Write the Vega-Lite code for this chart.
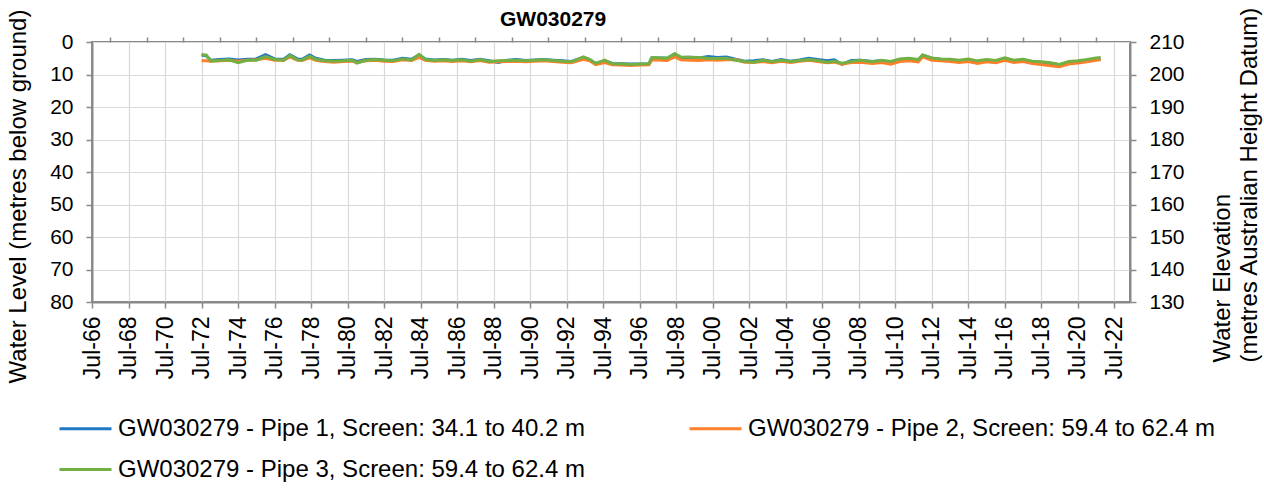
{
  "$schema": "https://vega.github.io/schema/vega-lite/v6.json",
  "width": 1038,
  "height": 260,
  "autosize": {"type": "none"},
  "padding": {"left": 92, "top": 42, "right": 134, "bottom": 186},
  "background": "white",
  "title": {"text": "GW030279", "anchor": "start", "frame": "group", "dx": 408, "offset": 0, "dy": 41, "baseline": "alphabetic", "fontSize": 21, "fontWeight": "bold", "font": "Liberation Sans", "color": "#000000"},
  "config": {
    "font": "Liberation Sans",
    "view": {"stroke": "#898989", "strokeWidth": 2},
    "axis": {"labelColor": "#000000", "titleColor": "#000000", "titleFontWeight": "normal", "domainColor": "#898989", "domainWidth": 2, "tickColor": "#898989", "tickWidth": 1.5, "gridColor": "#d9d9d9", "gridWidth": 1.2}
  },
  "data": {"values": [
    {"date": "1972-07-01", "p1": 4.0, "p2": 5.8, "p3": 3.9},
    {"date": "1972-10-01", "p1": 4.2, "p2": 5.8, "p3": 4.0},
    {"date": "1973-01-01", "p1": 5.6, "p2": 5.9, "p3": 5.8},
    {"date": "1973-07-01", "p1": 5.4, "p2": 5.8, "p3": 5.7},
    {"date": "1974-01-01", "p1": 5.2, "p2": 5.6, "p3": 5.5},
    {"date": "1974-07-01", "p1": 5.5, "p2": 5.9, "p3": 6.4},
    {"date": "1975-01-01", "p1": 5.3, "p2": 5.6, "p3": 5.6},
    {"date": "1975-07-01", "p1": 5.2, "p2": 5.5, "p3": 5.6},
    {"date": "1976-01-01", "p1": 3.9, "p2": 5.0, "p3": 4.5},
    {"date": "1976-07-01", "p1": 5.2, "p2": 5.6, "p3": 5.4},
    {"date": "1977-01-01", "p1": 5.3, "p2": 5.6, "p3": 5.6},
    {"date": "1977-05-01", "p1": 3.9, "p2": 4.6, "p3": 4.2},
    {"date": "1977-10-01", "p1": 5.2, "p2": 5.6, "p3": 5.5},
    {"date": "1978-01-01", "p1": 5.3, "p2": 5.7, "p3": 5.6},
    {"date": "1978-06-01", "p1": 4.0, "p2": 4.9, "p3": 4.4},
    {"date": "1978-10-01", "p1": 5.0, "p2": 5.6, "p3": 5.3},
    {"date": "1979-04-01", "p1": 5.6, "p2": 6.0, "p3": 5.8},
    {"date": "1979-10-01", "p1": 5.7, "p2": 6.2, "p3": 5.9},
    {"date": "1980-04-01", "p1": 5.6, "p2": 6.0, "p3": 5.8},
    {"date": "1980-10-01", "p1": 5.5, "p2": 5.9, "p3": 5.6},
    {"date": "1981-01-01", "p1": 6.0, "p2": 6.3, "p3": 6.5},
    {"date": "1981-07-01", "p1": 5.4, "p2": 5.8, "p3": 5.6},
    {"date": "1982-01-01", "p1": 5.3, "p2": 5.6, "p3": 5.4},
    {"date": "1982-07-01", "p1": 5.5, "p2": 5.9, "p3": 5.6},
    {"date": "1983-01-01", "p1": 5.6, "p2": 6.0, "p3": 5.8},
    {"date": "1983-07-01", "p1": 5.0, "p2": 5.5, "p3": 5.2},
    {"date": "1984-01-01", "p1": 5.3, "p2": 5.7, "p3": 5.5},
    {"date": "1984-06-01", "p1": 3.9, "p2": 4.7, "p3": 3.8},
    {"date": "1984-10-01", "p1": 5.2, "p2": 5.6, "p3": 5.4},
    {"date": "1985-04-01", "p1": 5.5, "p2": 5.9, "p3": 5.7},
    {"date": "1985-10-01", "p1": 5.4, "p2": 5.8, "p3": 5.5},
    {"date": "1986-04-01", "p1": 5.6, "p2": 6.0, "p3": 5.7},
    {"date": "1986-10-01", "p1": 5.3, "p2": 5.8, "p3": 5.5},
    {"date": "1987-04-01", "p1": 5.7, "p2": 6.1, "p3": 5.9},
    {"date": "1987-10-01", "p1": 5.3, "p2": 5.7, "p3": 5.4},
    {"date": "1988-04-01", "p1": 5.8, "p2": 6.2, "p3": 6.0},
    {"date": "1988-10-01", "p1": 6.3, "p2": 6.1, "p3": 5.8},
    {"date": "1989-04-01", "p1": 5.6, "p2": 6.0, "p3": 5.7},
    {"date": "1989-10-01", "p1": 5.4, "p2": 5.9, "p3": 5.6},
    {"date": "1990-04-01", "p1": 5.7, "p2": 6.1, "p3": 5.8},
    {"date": "1990-10-01", "p1": 5.5, "p2": 5.9, "p3": 5.6},
    {"date": "1991-04-01", "p1": 5.4, "p2": 5.8, "p3": 5.5},
    {"date": "1991-10-01", "p1": 5.6, "p2": 6.0, "p3": 5.7},
    {"date": "1992-04-01", "p1": 5.8, "p2": 6.2, "p3": 5.9},
    {"date": "1992-10-01", "p1": 6.0, "p2": 6.4, "p3": 6.1},
    {"date": "1993-06-01", "p1": 4.8, "p2": 5.3, "p3": 4.6},
    {"date": "1993-10-01", "p1": 5.4, "p2": 5.8, "p3": 5.3},
    {"date": "1994-02-01", "p1": 6.6, "p2": 7.0, "p3": 6.6},
    {"date": "1994-08-01", "p1": 5.8, "p2": 6.3, "p3": 5.6},
    {"date": "1995-01-01", "p1": 6.6, "p2": 7.0, "p3": 6.7},
    {"date": "1995-07-01", "p1": 6.7, "p2": 7.1, "p3": 6.8},
    {"date": "1996-01-01", "p1": 6.8, "p2": 7.2, "p3": 6.9},
    {"date": "1996-07-01", "p1": 6.8, "p2": 7.1, "p3": 6.8},
    {"date": "1997-01-01", "p1": 6.7, "p2": 7.0, "p3": 6.7},
    {"date": "1997-03-01", "p1": 4.9, "p2": 5.5, "p3": 4.8},
    {"date": "1997-10-01", "p1": 4.9, "p2": 5.6, "p3": 4.9},
    {"date": "1998-01-01", "p1": 5.0, "p2": 5.7, "p3": 5.0},
    {"date": "1998-06-01", "p1": 3.7, "p2": 4.6, "p3": 3.6},
    {"date": "1998-10-01", "p1": 4.8, "p2": 5.5, "p3": 4.6},
    {"date": "1999-04-01", "p1": 4.7, "p2": 5.6, "p3": 4.7},
    {"date": "1999-10-01", "p1": 4.9, "p2": 5.7, "p3": 4.8},
    {"date": "2000-04-01", "p1": 4.5, "p2": 5.5, "p3": 5.0},
    {"date": "2000-10-01", "p1": 4.8, "p2": 5.6, "p3": 5.1},
    {"date": "2001-04-01", "p1": 4.6, "p2": 5.5, "p3": 5.0},
    {"date": "2001-10-01", "p1": 5.3, "p2": 5.4, "p3": 5.6},
    {"date": "2002-04-01", "p1": 5.9, "p2": 6.2, "p3": 6.0},
    {"date": "2002-10-01", "p1": 5.8, "p2": 6.3, "p3": 6.2},
    {"date": "2003-04-01", "p1": 5.5, "p2": 6.0, "p3": 5.6},
    {"date": "2003-10-01", "p1": 6.0, "p2": 6.4, "p3": 6.1},
    {"date": "2004-04-01", "p1": 5.4, "p2": 5.9, "p3": 5.6},
    {"date": "2004-10-01", "p1": 5.9, "p2": 6.3, "p3": 6.0},
    {"date": "2005-04-01", "p1": 5.5, "p2": 5.9, "p3": 5.7},
    {"date": "2005-10-01", "p1": 5.0, "p2": 5.6, "p3": 5.4},
    {"date": "2006-04-01", "p1": 5.4, "p2": 6.0, "p3": 5.7},
    {"date": "2006-10-01", "p1": 5.8, "p2": 6.4, "p3": 6.2},
    {"date": "2007-03-01", "p1": 5.5, "p2": 6.2, "p3": 5.9},
    {"date": "2007-08-01", "p1": 6.9, "p2": 6.8, "p3": 6.5},
    {"date": "2008-02-01", "p1": 5.7, "p2": 6.3, "p3": 6.0},
    {"date": "2008-08-01", "p1": 5.6, "p2": 6.2, "p3": 5.6},
    {"date": "2009-04-01", "p1": 6.0, "p2": 6.6, "p3": 6.1},
    {"date": "2009-10-01", "p1": 5.7, "p2": 6.3, "p3": 5.6},
    {"date": "2010-04-01", "p1": 6.2, "p2": 6.8, "p3": 6.0},
    {"date": "2010-10-01", "p1": 5.4, "p2": 6.0, "p3": 5.2},
    {"date": "2011-04-01", "p1": 5.2, "p2": 5.8, "p3": 5.0},
    {"date": "2011-10-01", "p1": 5.6, "p2": 6.1, "p3": 5.4},
    {"date": "2012-01-01", "p1": 4.1, "p2": 4.6, "p3": 4.0},
    {"date": "2012-07-01", "p1": 5.0, "p2": 5.6, "p3": 4.9},
    {"date": "2013-01-01", "p1": 5.3, "p2": 5.8, "p3": 5.2},
    {"date": "2013-07-01", "p1": 5.5, "p2": 6.0, "p3": 5.3},
    {"date": "2014-01-01", "p1": 5.8, "p2": 6.3, "p3": 5.6},
    {"date": "2014-07-01", "p1": 5.5, "p2": 6.0, "p3": 5.2},
    {"date": "2015-01-01", "p1": 6.1, "p2": 6.6, "p3": 5.8},
    {"date": "2015-07-01", "p1": 5.6, "p2": 6.1, "p3": 5.4},
    {"date": "2016-01-01", "p1": 5.9, "p2": 6.4, "p3": 5.7},
    {"date": "2016-07-01", "p1": 5.0, "p2": 5.6, "p3": 4.9},
    {"date": "2017-01-01", "p1": 5.8, "p2": 6.3, "p3": 5.6},
    {"date": "2017-07-01", "p1": 5.5, "p2": 6.0, "p3": 5.3},
    {"date": "2018-01-01", "p1": 6.1, "p2": 6.6, "p3": 5.9},
    {"date": "2018-07-01", "p1": 6.3, "p2": 6.9, "p3": 6.1},
    {"date": "2019-01-01", "p1": 6.6, "p2": 7.3, "p3": 6.4},
    {"date": "2019-07-01", "p1": 7.0, "p2": 7.6, "p3": 6.9},
    {"date": "2020-01-01", "p1": 6.2, "p2": 6.8, "p3": 6.0},
    {"date": "2020-07-01", "p1": 6.0, "p2": 6.5, "p3": 5.8},
    {"date": "2021-01-01", "p1": 5.6, "p2": 6.1, "p3": 5.4},
    {"date": "2021-07-01", "p1": 5.2, "p2": 5.6, "p3": 4.9},
    {"date": "2021-10-01", "p1": 5.3, "p2": 5.5, "p3": 4.8}
  ]},
  "transform": [
    {"fold": ["p1", "p2", "p3"], "as": ["key", "depth"]},
    {"timeUnit": "yearmonthdate", "field": "date", "as": "d"}
  ],
  "layer": [
    {
      "mark": {"type": "line", "strokeWidth": 3, "clip": true},
      "encoding": {
        "x": {"field": "d", "type": "temporal",
          "scale": {"domain": [{"year": 1966, "month": 7, "date": 1}, {"year": 2023, "month": 5, "date": 10}], "nice": false},
          "axis": {"title": null, "format": "%b-%y", "labelAngle": -90, "labelAlign": "right", "labelBaseline": "middle", "labelFontSize": 23, "labelPadding": 8, "tickSize": 6, "grid": true, "labelOverlap": false,
            "values": [
              {"year": 1966, "month": 7, "date": 1}, {"year": 1968, "month": 7, "date": 1}, {"year": 1970, "month": 7, "date": 1}, {"year": 1972, "month": 7, "date": 1},
              {"year": 1974, "month": 7, "date": 1}, {"year": 1976, "month": 7, "date": 1}, {"year": 1978, "month": 7, "date": 1}, {"year": 1980, "month": 7, "date": 1},
              {"year": 1982, "month": 7, "date": 1}, {"year": 1984, "month": 7, "date": 1}, {"year": 1986, "month": 7, "date": 1}, {"year": 1988, "month": 7, "date": 1},
              {"year": 1990, "month": 7, "date": 1}, {"year": 1992, "month": 7, "date": 1}, {"year": 1994, "month": 7, "date": 1}, {"year": 1996, "month": 7, "date": 1},
              {"year": 1998, "month": 7, "date": 1}, {"year": 2000, "month": 7, "date": 1}, {"year": 2002, "month": 7, "date": 1}, {"year": 2004, "month": 7, "date": 1},
              {"year": 2006, "month": 7, "date": 1}, {"year": 2008, "month": 7, "date": 1}, {"year": 2010, "month": 7, "date": 1}, {"year": 2012, "month": 7, "date": 1},
              {"year": 2014, "month": 7, "date": 1}, {"year": 2016, "month": 7, "date": 1}, {"year": 2018, "month": 7, "date": 1}, {"year": 2020, "month": 7, "date": 1},
              {"year": 2022, "month": 7, "date": 1}
            ]}},
        "y": {"field": "depth", "type": "quantitative",
          "scale": {"domain": [0, 80], "reverse": true, "nice": false},
          "axis": {"values": [0, 10, 20, 30, 40, 50, 60, 70, 80], "labelFontSize": 21, "tickSize": 6, "labelPadding": 13, "grid": true,
            "title": "Water Level (metres below ground)", "titleFontSize": 24, "titleAngle": -90, "titleBaseline": "alphabetic", "titleAlign": "center", "titleX": -67, "titleY": 154}},
        "color": {"field": "key", "type": "nominal",
          "scale": {"domain": ["p1", "p2", "p3"], "range": ["#1F78C1", "#FF7F2A", "#72B043"]},
          "legend": {"title": null, "orient": "none", "legendX": -34, "legendY": 359, "direction": "horizontal", "columns": 2, "columnPadding": 98, "rowPadding": 1, "padding": 0,
            "symbolType": "stroke", "symbolSize": 2704, "symbolStrokeWidth": 3, "labelFontSize": 24, "labelOffset": 5, "labelLimit": 700, "labelColor": "#000000",
            "labelExpr": "datum.value == 'p1' ? 'GW030279 - Pipe 1, Screen: 34.1 to 40.2 m' : datum.value == 'p2' ? 'GW030279 - Pipe 2, Screen: 59.4 to 62.4 m' : 'GW030279 - Pipe 3, Screen: 59.4 to 62.4 m'"}}
      }
    },
    {
      "mark": {"type": "line", "opacity": 0},
      "encoding": {
        "x": {"field": "d", "type": "temporal",
          "scale": {"domain": [{"year": 1966, "month": 7, "date": 1}, {"year": 2023, "month": 5, "date": 10}], "nice": false},
          "axis": {"title": null, "labels": false, "grid": false, "domain": false, "tickSize": 5,
            "values": [
              {"year": 1967, "month": 7, "date": 1}, {"year": 1969, "month": 7, "date": 1}, {"year": 1971, "month": 7, "date": 1}, {"year": 1973, "month": 7, "date": 1},
              {"year": 1975, "month": 7, "date": 1}, {"year": 1977, "month": 7, "date": 1}, {"year": 1979, "month": 7, "date": 1}, {"year": 1981, "month": 7, "date": 1},
              {"year": 1983, "month": 7, "date": 1}, {"year": 1985, "month": 7, "date": 1}, {"year": 1987, "month": 7, "date": 1}, {"year": 1989, "month": 7, "date": 1},
              {"year": 1991, "month": 7, "date": 1}, {"year": 1993, "month": 7, "date": 1}, {"year": 1995, "month": 7, "date": 1}, {"year": 1997, "month": 7, "date": 1},
              {"year": 1999, "month": 7, "date": 1}, {"year": 2001, "month": 7, "date": 1}, {"year": 2003, "month": 7, "date": 1}, {"year": 2005, "month": 7, "date": 1},
              {"year": 2007, "month": 7, "date": 1}, {"year": 2009, "month": 7, "date": 1}, {"year": 2011, "month": 7, "date": 1}, {"year": 2013, "month": 7, "date": 1},
              {"year": 2015, "month": 7, "date": 1}, {"year": 2017, "month": 7, "date": 1}, {"year": 2019, "month": 7, "date": 1}, {"year": 2021, "month": 7, "date": 1}
            ]}},
        "y": {"field": "depth", "type": "quantitative",
          "scale": {"domain": [0, 80], "reverse": true, "nice": false},
          "axis": {"orient": "right", "values": [0, 10, 20, 30, 40, 50, 60, 70, 80], "labelExpr": "210 - datum.value", "labelFontSize": 21, "tickSize": 6, "labelPadding": 13, "grid": false,
            "title": ["Water Elevation", "(metres Australian Height Datum)"], "titleFontSize": 24, "titleAngle": -90, "titleBaseline": "alphabetic", "titleAlign": "left", "titleLineHeight": 27, "titleX": 99, "titleY": 320}},
        "detail": {"field": "key", "type": "nominal"}
      }
    }
  ],
  "resolve": {"scale": {"y": "independent"}, "axis": {"x": "independent"}}
}
